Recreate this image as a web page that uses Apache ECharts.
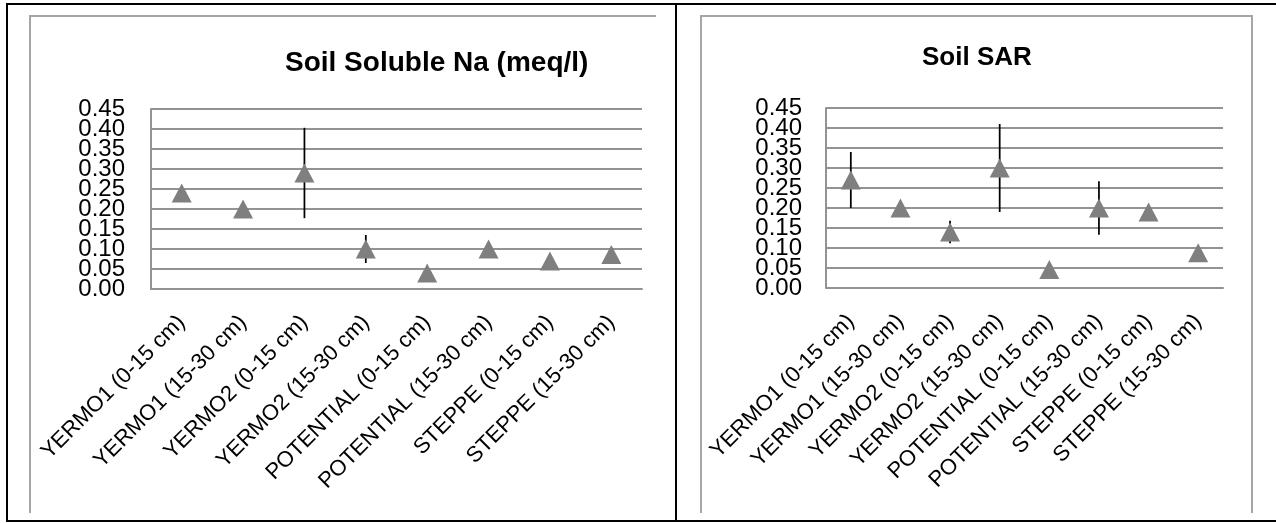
<!DOCTYPE html>
<html>
<head>
<meta charset="utf-8">
<script src="https://cdn.jsdelivr.net/npm/echarts@6/dist/echarts.min.js"></script>
<style>
html,body{margin:0;padding:0;background:#fff;}
#c{width:1276px;height:523px;}
</style>
</head>
<body>
<div id="c"></div>
<script>
// ---- data ----
var categories = ['YERMO1 (0-15 cm)', 'YERMO1 (15-30 cm)', 'YERMO2 (0-15 cm)', 'YERMO2 (15-30 cm)',
  'POTENTIAL (0-15 cm)', 'POTENTIAL (15-30 cm)', 'STEPPE (0-15 cm)', 'STEPPE (15-30 cm)'];
var naMean = [0.24, 0.20, 0.29, 0.10, 0.04, 0.10, 0.07, 0.086];
var naErr  = [0, 0, 0.113, 0.035, 0, 0, 0, 0];
var sarMean = [0.27, 0.20, 0.14, 0.30, 0.046, 0.20, 0.19, 0.088];
var sarErr  = [0.07, 0, 0.028, 0.11, 0, 0.067, 0, 0];
var yTicks = [0.00, 0.05, 0.10, 0.15, 0.20, 0.25, 0.30, 0.35, 0.40, 0.45];
var titleNa = 'Soil Soluble Na (meq/l)';
var titleSar = 'Soil SAR';
var yMin = 0, yMax = 0.45, yStep = 0.05;

var FONT = 'Liberation Sans, Arial, sans-serif';
var GRID_COLOR = '#939393';

function errData(mean, err) {
  var out = [];
  for (var i = 0; i < mean.length; i++) {
    if (err[i] > 0) out.push([i, mean[i] - err[i], mean[i] + err[i]]);
  }
  return out;
}
function renderErr(params, api) {
  var x = api.value(0);
  var p1 = api.coord([x, api.value(2)]);
  var p2 = api.coord([x, api.value(1)]);
  return {
    type: 'line',
    shape: {x1: p1[0], y1: p1[1], x2: p2[0], y2: p2[1]},
    style: {stroke: '#000', lineWidth: 1.75}
  };
}
function tickLabelSeries(idx, margin) {
  return {
    type: 'custom', xAxisIndex: idx, yAxisIndex: idx, silent: true, clip: false,
    data: yTicks.map(function (v) { return [0, v]; }),
    encode: {x: 0, y: 1},
    renderItem: function (params, api) {
      var v = api.value(1);
      var p = api.coord([0, v]);
      return {
        type: 'text',
        style: {
          x: params.coordSys.x - margin, y: p[1],
          text: v.toFixed(2), align: 'right', verticalAlign: 'middle',
          font: '24px ' + FONT, fill: '#000'
        }
      };
    }
  };
}
function xAxis(idx) {
  return {
    type: 'category', gridIndex: idx, data: categories,
    axisLine: {show: true, lineStyle: {color: GRID_COLOR, width: 2}},
    axisTick: {show: false},
    axisLabel: {rotate: 45, interval: 0, margin: 30, fontFamily: FONT, fontSize: 22, color: '#000'}
  };
}
function yAxis(idx) {
  return {
    type: 'value', gridIndex: idx, min: yMin, max: yMax, interval: yStep,
    axisLine: {show: true, lineStyle: {color: GRID_COLOR, width: 2}},
    axisTick: {show: false},
    splitLine: {show: true, lineStyle: {color: GRID_COLOR, width: 2}},
    axisLabel: {show: false}
  };
}

var chart = echarts.init(document.getElementById('c'), null, {renderer: 'canvas'});
chart.setOption({
  animation: false,
  backgroundColor: '#fff',
  title: [
    {text: titleNa, left: 285, top: 49, padding: 0,
     textStyle: {fontFamily: FONT, fontSize: 28, fontWeight: 'bold', color: '#000'}},
    {text: titleSar, left: 922, top: 45, padding: 0,
     textStyle: {fontFamily: FONT, fontSize: 26, fontWeight: 'bold', color: '#000'}}
  ],
  grid: [
    {left: 151, right: 1276 - 642, top: 109, bottom: 523 - 289, containLabel: false},
    {left: 826, right: 1276 - 1223, top: 108, bottom: 523 - 288, containLabel: false}
  ],
  xAxis: [xAxis(0), xAxis(1)],
  yAxis: [yAxis(0), yAxis(1)],
  series: [
    tickLabelSeries(0, 26),
    tickLabelSeries(1, 24),
    {type: 'custom', xAxisIndex: 0, yAxisIndex: 0, renderItem: renderErr, data: errData(naMean, naErr), z: 2},
    {type: 'scatter', xAxisIndex: 0, yAxisIndex: 0, data: naMean, symbol: 'triangle', symbolSize: [20, 19],
     itemStyle: {color: '#7f7f7f', opacity: 1}, z: 3},
    {type: 'custom', xAxisIndex: 1, yAxisIndex: 1, renderItem: renderErr, data: errData(sarMean, sarErr), z: 2},
    {type: 'scatter', xAxisIndex: 1, yAxisIndex: 1, data: sarMean, symbol: 'triangle', symbolSize: [20, 19],
     itemStyle: {color: '#7f7f7f', opacity: 1}, z: 3}
  ],
  graphic: [
    {type: 'polyline', shape: {points: [[30, 513], [30, 16], [656, 16]]},
     style: {stroke: '#a6a6a6', lineWidth: 2, fill: null}, silent: true},
    {type: 'polyline', shape: {points: [[701, 513], [701, 16], [1252, 16], [1252, 513]]},
     style: {stroke: '#a6a6a6', lineWidth: 2, fill: null}, silent: true},
    {type: 'polyline', shape: {points: [[1280, 4], [7, 4], [7, 521], [1280, 521]]},
     style: {stroke: '#000', lineWidth: 2, fill: null}, silent: true},
    {type: 'line', shape: {x1: 676, y1: 4, x2: 676, y2: 521},
     style: {stroke: '#000', lineWidth: 2}, silent: true}
  ]
});
</script>
</body>
</html>
